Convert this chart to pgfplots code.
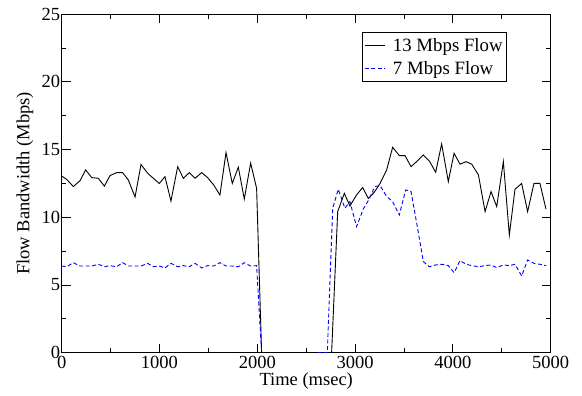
\documentclass[border=0pt]{standalone}
\usepackage{fontspec}
\setmainfont{Liberation Serif}
\usepackage{pgfplots}
\pgfplotsset{compat=1.18}
\begin{document}
\begin{tikzpicture}
\useasboundingbox (-61.7pt,-43.3pt) rectangle (520.3pt,352.7pt);
\begin{axis}[
  at={(0pt,0pt)}, anchor=south west,
  scale only axis, width=489pt, height=338.5pt,
  xmin=0, xmax=5000, ymin=0, ymax=25,
  xtick distance=1000, minor x tick num=1,
  ytick distance=5, minor y tick num=1,
  tick align=inside,
  major tick length=9pt, minor tick length=4.5pt,
  every tick/.style={black, line width=0.9pt},
  axis line style={line width=1.2pt},
  /pgf/number format/assume math mode=true,
  /pgf/number format/1000 sep={},
  tick label style={font=\fontsize{18.5}{22}\selectfont},
  yticklabel style={xshift=2pt},
  label style={font=\fontsize{18.5}{22}\selectfont},
  xlabel={Time (msec)},
  ylabel={Flow Bandwidth (Mbps)},
  xlabel style={at={(axis description cs:0.5,-0.0836)}, anchor=center},
  ylabel style={at={(axis description cs:-0.075,0.5)}, anchor=center},
  unbounded coords=jump,
  legend style={at={(axis description cs:0.6135,0.9466)}, anchor=north west,
    draw=black, line width=0.8pt, font=\fontsize{18.8}{22}\selectfont,
    inner xsep=2pt, inner ysep=4pt, row sep=4pt, cells={anchor=west}},
  legend image code/.code={\draw[#1] (0pt,0pt) -- (20pt,0pt);},
]
\addplot[black, line width=0.9pt] coordinates {
(0,13.05) (51,12.8) (119,12.27) (187,12.7) (245,13.5) (307,12.93) (375,12.88)
(436,12.3) (494,13.08) (562,13.3) (623,13.3) (681,12.76) (750,11.5) (811,13.9)
(879,13.25) (937,12.88) (998,12.5) (1056,13.0) (1117,11.2) (1186,13.74)
(1244,12.88) (1305,13.3) (1363,12.88) (1431,13.3) (1492,12.93) (1554,12.39)
(1618,11.65) (1680,14.78) (1744,12.5) (1806,13.7) (1867,11.35) (1932,14.0)
(1993,12.14) (2044,0) (2760,0) (2822,10.42) (2890,11.77) (2947,10.84)
(3015,11.65) (3077,12.2) (3135,11.4) (3193,11.82) (3255,12.5) (3323,13.5)
(3384,15.17) (3452,14.56) (3510,14.56) (3572,13.74) (3636,14.16) (3698,14.6)
(3759,14.16) (3824,13.33) (3885,15.42) (3953,12.64) (4012,14.73) (4073,13.92)
(4135,14.11) (4193,13.92) (4261,13.13) (4329,10.42) (4390,11.9) (4448,10.79)
(4516,14.11) (4577,8.69) (4635,12.07) (4703,12.5) (4764,10.42) (4829,12.5)
(4890,12.5) (4952,10.6)
};
\addlegendentry{\hspace*{6pt}13 Mbps Flow}
\addplot[blue, line width=0.9pt, dash pattern=on 4pt off 2.5pt] coordinates {
(0,6.40) (51,6.35) (119,6.65) (187,6.40) (245,6.40) (307,6.40) (375,6.53)
(436,6.35) (494,6.43) (562,6.35) (623,6.65) (681,6.40) (750,6.40) (811,6.40)
(879,6.60) (937,6.35) (998,6.40) (1056,6.26) (1117,6.60) (1186,6.35)
(1244,6.43) (1305,6.35) (1363,6.60) (1431,6.26) (1492,6.43) (1554,6.40)
(1618,6.65) (1680,6.40) (1744,6.40) (1806,6.35) (1867,6.65) (1932,6.40)
(1993,6.43) (2044,0) (2300,nan) (2613,0) (2716,0) (2771,10.67) (2828,12.07)
(2896,10.67) (2947,11.16) (3015,9.31) (3083,10.6) (3140,11.3) (3203,12.27)
(3255,12.35) (3323,11.53) (3384,11.16) (3452,10.17) (3517,12.02) (3572,11.9)
(3636,9.31) (3698,6.72) (3759,6.35) (3824,6.48) (3885,6.53) (3953,6.43)
(4012,5.91) (4073,6.80) (4135,6.53) (4193,6.43) (4261,6.35) (4329,6.43)
(4390,6.48) (4448,6.28) (4516,6.48) (4577,6.43) (4635,6.53) (4703,5.67)
(4764,6.85) (4829,6.60) (4890,6.53) (4952,6.43)
};
\addlegendentry{\hspace*{6pt}7 Mbps Flow}
\end{axis}
\end{tikzpicture}
\end{document}
